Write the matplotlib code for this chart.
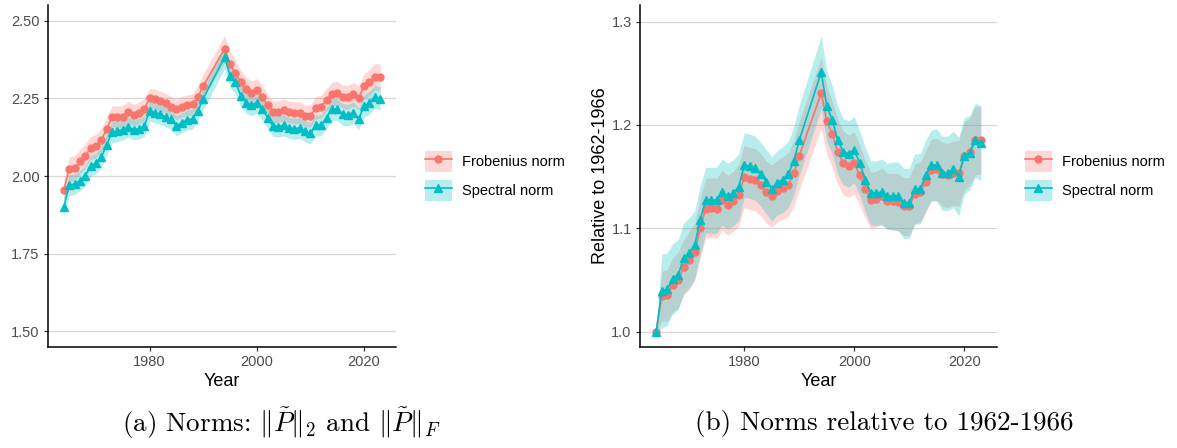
import numpy as np
import matplotlib
matplotlib.use("Agg")
import matplotlib.pyplot as plt
from matplotlib.patches import Patch
from matplotlib.lines import Line2D

# ---------------- data ----------------
years = [1964, 1965, 1966, 1967, 1968, 1969, 1970, 1971, 1972, 1973, 1974, 1975, 1976,
         1977, 1978, 1979, 1980, 1981, 1982, 1983, 1984, 1985, 1986, 1987, 1988, 1989,
         1990, 1994, 1995, 1996, 1997, 1998, 1999, 2000, 2001, 2002, 2003, 2004, 2005,
         2006, 2007, 2008, 2009, 2010, 2011, 2012, 2013, 2014, 2015, 2016, 2017, 2018,
         2019, 2020, 2021, 2022, 2023]

series_names = ["Frobenius norm", "Spectral norm"]

# panel (a): absolute norms
frob_norm = [1.955, 2.022, 2.025, 2.047, 2.065, 2.090, 2.097, 2.115, 2.152, 2.189, 2.189,
             2.190, 2.206, 2.195, 2.203, 2.214, 2.250, 2.247, 2.241, 2.234, 2.223, 2.214,
             2.223, 2.227, 2.230, 2.254, 2.290, 2.409, 2.360, 2.331, 2.301, 2.279, 2.268,
             2.277, 2.255, 2.227, 2.206, 2.207, 2.212, 2.206, 2.204, 2.204, 2.193, 2.193,
             2.220, 2.223, 2.245, 2.263, 2.266, 2.255, 2.253, 2.263, 2.252, 2.288, 2.301,
             2.319, 2.317]
spec_norm = [1.900, 1.971, 1.974, 1.985, 2.000, 2.033, 2.041, 2.060, 2.101, 2.141, 2.144,
             2.149, 2.158, 2.149, 2.152, 2.160, 2.209, 2.203, 2.198, 2.190, 2.182, 2.162,
             2.171, 2.180, 2.184, 2.209, 2.249, 2.383, 2.322, 2.301, 2.258, 2.236, 2.227,
             2.236, 2.214, 2.188, 2.161, 2.159, 2.163, 2.155, 2.152, 2.155, 2.144, 2.137,
             2.163, 2.163, 2.188, 2.214, 2.214, 2.198, 2.195, 2.204, 2.184, 2.225, 2.236,
             2.255, 2.249]
frob_hw = [0.030, 0.040, 0.040, 0.038, 0.038, 0.037, 0.037, 0.037, 0.037, 0.037, 0.036,
           0.036, 0.035, 0.035, 0.035, 0.035, 0.032, 0.032, 0.032, 0.032, 0.032, 0.032,
           0.033, 0.033, 0.034, 0.036, 0.038, 0.043, 0.042, 0.040, 0.039, 0.038, 0.037,
           0.036, 0.036, 0.035, 0.035, 0.035, 0.035, 0.035, 0.035, 0.035, 0.035, 0.035,
           0.036, 0.036, 0.037, 0.038, 0.038, 0.038, 0.038, 0.038, 0.038, 0.040, 0.042,
           0.043, 0.043]
spec_hw = [0.035, 0.034, 0.033, 0.033, 0.033, 0.033, 0.033, 0.033, 0.034, 0.034, 0.034,
           0.033, 0.033, 0.033, 0.033, 0.033, 0.032, 0.032, 0.032, 0.032, 0.032, 0.032,
           0.032, 0.032, 0.033, 0.034, 0.036, 0.038, 0.037, 0.036, 0.035, 0.034, 0.034,
           0.034, 0.034, 0.034, 0.034, 0.034, 0.034, 0.034, 0.034, 0.034, 0.034, 0.034,
           0.034, 0.034, 0.034, 0.035, 0.035, 0.035, 0.035, 0.035, 0.035, 0.036, 0.037,
           0.037, 0.037]

# panel (b): relative to 1962-1966
frob_rel = [1.000, 1.034, 1.035, 1.045, 1.050, 1.062, 1.069, 1.077, 1.100, 1.119, 1.120,
            1.119, 1.127, 1.122, 1.126, 1.132, 1.150, 1.148, 1.147, 1.142, 1.135, 1.131,
            1.136, 1.139, 1.142, 1.153, 1.170, 1.231, 1.204, 1.191, 1.174, 1.163, 1.160,
            1.163, 1.151, 1.138, 1.127, 1.128, 1.131, 1.126, 1.126, 1.125, 1.121, 1.121,
            1.133, 1.135, 1.145, 1.156, 1.157, 1.152, 1.151, 1.153, 1.153, 1.170, 1.174,
            1.185, 1.185]
spec_rel = [1.000, 1.039, 1.041, 1.051, 1.055, 1.071, 1.076, 1.084, 1.108, 1.127, 1.127,
            1.127, 1.135, 1.131, 1.134, 1.140, 1.161, 1.160, 1.158, 1.152, 1.145, 1.138,
            1.144, 1.147, 1.152, 1.165, 1.185, 1.251, 1.218, 1.205, 1.185, 1.174, 1.172,
            1.176, 1.163, 1.147, 1.134, 1.134, 1.135, 1.131, 1.131, 1.131, 1.124, 1.124,
            1.138, 1.138, 1.151, 1.161, 1.161, 1.153, 1.153, 1.157, 1.150, 1.170, 1.173,
            1.185, 1.182]
frob_rel_hw = [0.000, 0.024, 0.025, 0.026, 0.027, 0.027, 0.028, 0.028, 0.029, 0.029, 0.029,
               0.029, 0.029, 0.029, 0.029, 0.030, 0.030, 0.030, 0.030, 0.030, 0.030, 0.030,
               0.030, 0.030, 0.031, 0.032, 0.033, 0.034, 0.033, 0.032, 0.031, 0.031, 0.030,
               0.030, 0.029, 0.028, 0.027, 0.027, 0.027, 0.027, 0.027, 0.028, 0.028, 0.028,
               0.029, 0.029, 0.030, 0.030, 0.030, 0.031, 0.031, 0.031, 0.032, 0.033, 0.033,
               0.033, 0.033]
spec_rel_hw = [0.000, 0.036, 0.035, 0.034, 0.034, 0.034, 0.034, 0.033, 0.033, 0.032, 0.032,
               0.032, 0.032, 0.032, 0.032, 0.032, 0.031, 0.031, 0.031, 0.031, 0.031, 0.031,
               0.031, 0.032, 0.032, 0.033, 0.034, 0.035, 0.034, 0.033, 0.033, 0.032, 0.032,
               0.032, 0.031, 0.031, 0.031, 0.031, 0.032, 0.032, 0.033, 0.033, 0.034, 0.034,
               0.034, 0.034, 0.034, 0.034, 0.035, 0.036, 0.036, 0.037, 0.038, 0.037, 0.036,
               0.036, 0.036]

left_yticks = [1.50, 1.75, 2.00, 2.25, 2.50]
right_yticks = [1.0, 1.1, 1.2, 1.3]
xticks = [1980, 2000, 2020]

caption_a = r"(a) Norms: $\|\tilde{P}\|_2$ and $\|\tilde{P}\|_F$"
caption_b = "(b) Norms relative to 1962-1966"

# ---------------- style ----------------
RED = "#F8766D"
CYAN = "#00BFC4"
ALPHA = 0.28
plt.rcParams["font.family"] = ["Liberation Sans", "DejaVu Sans"]
plt.rcParams["mathtext.fontset"] = "cm"

fig = plt.figure(figsize=(11.77, 4.48), dpi=100)
ax1 = fig.add_axes([48 / 1177, 1 - 347 / 448, 348 / 1177, 342 / 448])
ax2 = fig.add_axes([640 / 1177, 1 - 347 / 448, 357 / 1177, 342 / 448])

yrs = np.array(years)


def draw(ax, a, ahw, b, bhw):
    a, ahw, b, bhw = map(np.asarray, (a, ahw, b, bhw))
    ax.fill_between(yrs, a - ahw, a + ahw, color=RED, alpha=ALPHA, lw=0, zorder=2)
    ax.fill_between(yrs, b - bhw, b + bhw, color=CYAN, alpha=ALPHA, lw=0, zorder=2)
    ax.plot(yrs, a, color=RED, lw=1.2, marker="o", ms=5, zorder=3)
    ax.plot(yrs, b, color=CYAN, lw=1.2, marker="^", ms=5.5, zorder=4)


draw(ax1, frob_norm, frob_hw, spec_norm, spec_hw)
draw(ax2, frob_rel, frob_rel_hw, spec_rel, spec_rel_hw)

for ax in (ax1, ax2):
    ax.set_xlim(1961.05, 2025.95)
    ax.set_xticks(xticks)
    for s in ("top", "right"):
        ax.spines[s].set_visible(False)
    for s in ("left", "bottom"):
        ax.spines[s].set_linewidth(1.1)
        ax.spines[s].set_color("black")
    ax.tick_params(axis="both", direction="out", length=3, width=0.9, color="#333333",
                   labelsize=10.5, labelcolor="#4D4D4D", pad=3)
    ax.grid(axis="y", color="#D6D6D6", lw=0.9, zorder=0)
    ax.set_axisbelow(True)
    ax.set_xlabel("Year", fontsize=13, color="black", labelpad=3)

ax1.set_ylim(1.45, 2.55)
ax1.set_yticks(left_yticks)
ax1.set_yticklabels([f"{v:.2f}" for v in left_yticks])
ax2.set_ylim(0.985, 1.316)
ax2.set_yticks(right_yticks)
ax2.set_yticklabels([f"{v:.1f}" for v in right_yticks])
ax2.set_ylabel("Relative to 1962-1966", fontsize=13, labelpad=2)

handles = [
    (Patch(facecolor=RED, alpha=ALPHA, edgecolor="none"),
     Line2D([], [], color=RED, lw=1.2, marker="o", ms=5)),
    (Patch(facecolor=CYAN, alpha=ALPHA, edgecolor="none"),
     Line2D([], [], color=CYAN, lw=1.2, marker="^", ms=5.5)),
]
for x0 in (422 / 1177, 1022 / 1177):
    fig.legend(handles, series_names, loc="upper left", bbox_to_anchor=(x0, 1 - 148 / 448),
               frameon=False, fontsize=10.5, handlelength=1.85, handleheight=1.85,
               handletextpad=0.7, labelspacing=0.55, borderaxespad=0, borderpad=0.2)

fig.text(281 / 1177, 1 - 423 / 448, caption_a, ha="center", va="center",
         fontsize=19.5, family="cmr10")
fig.text(884 / 1177, 1 - 423 / 448, caption_b, ha="center", va="center",
         fontsize=19.5, family="cmr10")

fig.savefig("out.png", dpi=100)
